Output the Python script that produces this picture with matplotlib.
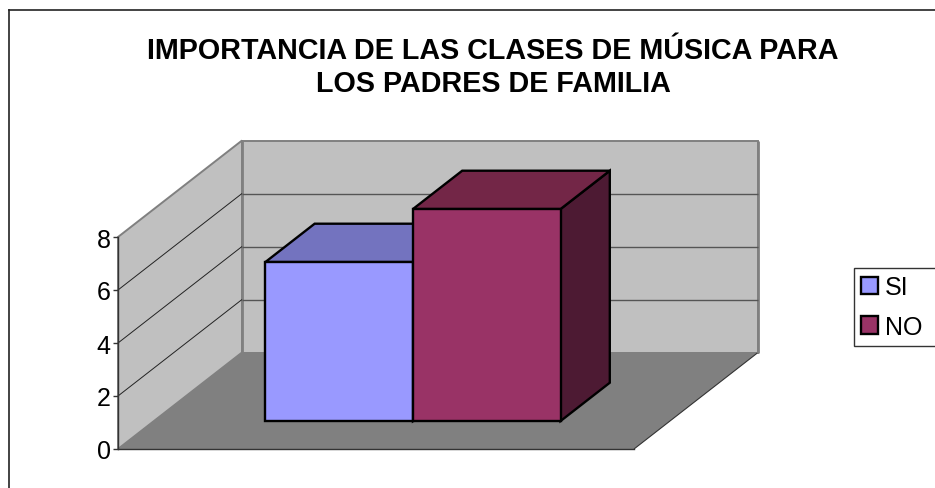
import matplotlib
matplotlib.use("Agg")
import matplotlib.pyplot as plt
from matplotlib.patches import Polygon, Patch

W, H = 935, 489
series_names = ["SI", "NO"]
series_values = [6, 8]
y_ticks = [0, 2, 4, 6, 8]
title_text = "IMPORTANCIA DE LAS CLASES DE MÚSICA PARA\nLOS PADRES DE FAMILIA"

front = ["#9999FF", "#993366"]
top = ["#7373BF", "#732647"]
side = ["#4D4D80", "#4D1A33"]

plt.rcParams["font.family"] = ["Liberation Sans", "DejaVu Sans"]
fig = plt.figure(figsize=(W / 100, H / 100), dpi=100, facecolor="white")

# Frame of the chart area (left and top sides run to the image edges)
fig.add_artist(plt.Line2D([9.0 / W, 9.0 / W], [0, 1 - 10.5 / H], color="#222222", lw=1.2))
fig.add_artist(plt.Line2D([9.0 / W, 1], [1 - 10.5 / H, 1 - 10.5 / H], color="#222222", lw=1.2))

L, R, B, T = 118, 634, 450, 238
ax = fig.add_axes([L / W, 1 - B / H, (R - L) / W, (B - T) / H])
ax.set_xlim(0, 2)
ax.set_ylim(0, 8)
ax.patch.set_visible(False)

DX = 124 / ((R - L) / 2)   # category units per unit of depth
DY = 96.5 / ((B - T) / 8)  # value units per unit of depth


def proj(x, y, d):
    return (x + DX * d, y + DY * d)


def poly(pts, fc, ec="none", lw=0.0, z=1):
    ax.add_patch(Polygon([proj(*p) for p in pts], closed=True, facecolor=fc, edgecolor=ec,
                         linewidth=lw, clip_on=False, zorder=z, joinstyle="miter"))


def line(p, q, c, lw, z=2):
    a, b = proj(*p), proj(*q)
    ax.plot([a[0], b[0]], [a[1], b[1]], color=c, lw=lw, clip_on=False, zorder=z,
            solid_capstyle="butt")


ymax = y_ticks[-1]
# walls and floor
poly([(0, 0, 0), (0, 0, 1), (0, ymax, 1), (0, ymax, 0)], "#C0C0C0", "#808080", 1.4)
poly([(0, 0, 1), (2, 0, 1), (2, ymax, 1), (0, ymax, 1)], "#C0C0C0", "#808080", 1.4)
poly([(0, 0, 0), (2, 0, 0), (2, 0, 1), (0, 0, 1)], "#808080", z=1.5)
line((2, 0, 0), (2, 0, 1), "#333333", 0.8, 1.6)
line((0, 0, 1), (0, ymax, 1), "#808080", 2.0, 1.6)
line((2, 0, 1), (2, ymax, 1), "#808080", 2.0, 1.6)

# gridlines
for v in y_ticks[1:-1]:
    line((0, v, 0), (0, v, 1), "#222222", 0.7)
    line((0, v, 1), (2, v, 1), "#555555", 1.0)

# bars
d0, d1 = 0.29, 0.687
bw = 0.572
x0 = 0.432
for i, (val, name) in enumerate(zip(series_values, series_names)):
    a, b = x0 + i * bw, x0 + (i + 1) * bw
    z = 3 + i
    poly([(b, 0, d0), (b, 0, d1), (b, val, d1), (b, val, d0)], side[i], "black", 1.7, z)
    poly([(a, val, d0), (b, val, d0), (b, val, d1), (a, val, d1)], top[i], "black", 1.7, z)
    poly([(a, 0, d0), (b, 0, d0), (b, val, d0), (a, val, d0)], front[i], "black", 1.7, z + 0.1)

# axes
for s in ("top", "right"):
    ax.spines[s].set_visible(False)
for s in ("left", "bottom"):
    ax.spines[s].set_color("#333333")
    ax.spines[s].set_linewidth(1.0)
    ax.spines[s].set_zorder(2.5)
ax.set_xticks([])
ax.set_yticks(y_ticks)
ax.tick_params(axis="y", length=3.3, width=1.0, color="#333333", pad=2, labelsize=18,
               labelcolor="black")

fig.text(493 / W, 1 - 67.5 / H, title_text, ha="center", va="center", fontsize=20.7,
         fontweight="bold", color="black", linespacing=1.25)

handles = [Patch(facecolor=c, edgecolor="black", linewidth=1.7) for c in front]
leg = fig.legend(handles, series_names, loc="upper left", mode="expand",
                 bbox_to_anchor=(853.5 / W, 1 - 346 / H, 110 / W, 77 / H),
                 bbox_transform=fig.transFigure,
                 borderaxespad=0, fontsize=18, frameon=True, fancybox=False,
                 handlelength=0.68, handleheight=0.68, handletextpad=0.28,
                 labelspacing=0.62, borderpad=0.29)
leg.get_frame().set_edgecolor("#333333")
leg.get_frame().set_linewidth(1.0)
leg.get_frame().set_alpha(1)

fig.savefig("out.png", dpi=100)
